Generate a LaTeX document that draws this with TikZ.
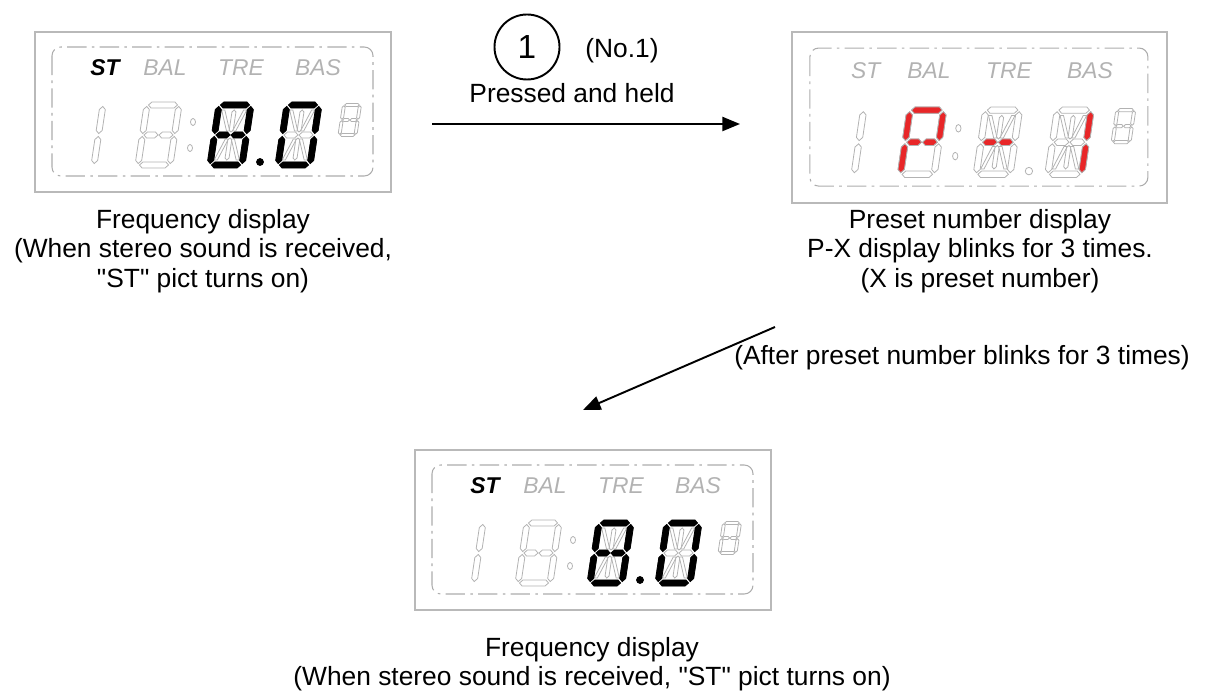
\documentclass[tikz,border=0pt]{standalone}
\usepackage{fontspec}
\setmainfont{Liberation Sans}[Ligatures=TeXOff]
\usepackage{xcolor}
\usetikzlibrary{positioning,arrows.meta}

\definecolor{lcdred}{RGB}{232,38,40}

% --- segments of one LCD digit (px, y down, origin = top left) ---
\newcommand\hseg[3]{(#1,#3)--(#1+3,#3-3)--(#2-3,#3-3)--(#2,#3)--(#2-3,#3+3)--(#1+3,#3+3)--cycle}
\newcommand\vseg[3]{(#1,#2)--(#1+3,#2+3)--(#1+3,#3-3)--(#1,#3)--(#1-3,#3-3)--(#1-3,#2+3)--cycle}
\newcommand\iseg[3]{(#1,#2)--(#1+2,#2+2)--(#1+2,#3-2)--(#1,#3)--(#1-2,#3-2)--(#1-2,#2+2)--cycle}
\newcommand\dseg[4]{(#1-1.6,#2)--(#1+1.6,#2)--(#3+1.6,#4)--(#3-1.6,#4)--cycle}
\def\lcdsega{\hseg{1.5}{30.5}{0}}
\def\lcdsegb{\vseg{32}{1.5}{28.5}}
\def\lcdsegc{\vseg{32}{31.5}{58.5}}
\def\lcdsegd{\hseg{1.5}{30.5}{60}}
\def\lcdsege{\vseg{0}{31.5}{58.5}}
\def\lcdsegf{\vseg{0}{1.5}{28.5}}
\def\lcdsegp{\hseg{1.5}{15.5}{30}}
\def\lcdsegq{\hseg{16.5}{30.5}{30}}
\def\lcdsegi{\iseg{16}{5}{27}}
\def\lcdsegl{\iseg{16}{33}{55}}
\def\lcdsegh{\dseg{5}{5}{13}{26}}
\def\lcdsegj{\dseg{27}{5}{19}{26}}
\def\lcdsegk{\dseg{5}{55}{13}{34}}
\def\lcdsegm{\dseg{27}{55}{19}{34}}
\def\lcdsegnone{}

% #1 origin, #2 segments present, #3 lit segments, #4 lit style
\newcommand\lcddigit[4]{%
  \begin{scope}[shift={#1},xslant=0.15]
    \foreach \s in {#2} \draw[segoff] \csname lcdseg\s\endcsname;
    \foreach \s in {#3} \filldraw[#4] \csname lcdseg\s\endcsname;
  \end{scope}}

% #1 name, #2 origin, #3 scaling, #4 ST style, #5-#7 lit segments, #8 lit style, #9 point style
\newcommand\lcdpanel[9]{%
  \begin{scope}[shift={#2},#3]
    \draw[panelframe] (0,0) rectangle (356,160);
    \draw[panelinner] (17,15) rectangle (338,144);
    \node[lcdtag,#4] (#1-st)  at (70,36)  {ST};
    \node[lcdtag]    (#1-bal) at (130,36) {BAL};
    \node[lcdtag]    (#1-tre) at (206,36) {TRE};
    \node[lcdtag]    (#1-bas) at (283,36) {BAS};
    \lcddigit{(36,73)}{b,c}{none}{#8}
    \lcddigit{(112,73)}{a,b,c,d,e,f,p,q}{#5}{#8}
    \draw[segoff] (158,90) ellipse (2.5 and 3.5);
    \draw[segoff] (155,116) ellipse (2.5 and 3.5);
    \lcddigit{(184,73)}{a,b,c,d,e,f,p,q,h,i,j,k,l,m}{#6}{#8}
    \filldraw[#9] (225,130) circle (3.5);
    \lcddigit{(252,73)}{a,b,c,d,e,f,p,q,h,i,j,k,l,m}{#7}{#8}
    \begin{scope}[shift={(309,73)},scale=0.5]
      \lcddigit{(0,0)}{a,b,c,d,e,f,p,q}{none}{#8}
    \end{scope}
  \end{scope}}

\begin{document}
\begin{tikzpicture}[
  x=0.02cm, y=-0.02cm,
  every node/.style={font=\fontsize{15}{16.8}\selectfont},
  caption/.style={align=center, inner sep=0pt, anchor=north},
  panelframe/.style={draw=gray!55, line width=0.9pt},
  panelinner/.style={draw=gray!65, line width=0.6pt, rounded corners=5pt,
                     dash pattern=on 11pt off 3pt on 1.5pt off 3pt},
  lcdtag/.style={text=gray!60, inner sep=0pt, font=\fontsize{13}{13}\selectfont\itshape},
  stlit/.style={text=black, font=\fontsize{13}{13}\selectfont\bfseries\itshape},
  segoff/.style={draw=gray!60, fill=white, line width=0.45pt},
  segon/.style={draw=black, fill=black, line width=0.45pt},
  segred/.style={draw=gray!60, fill=lcdred, line width=0.45pt},
  dotoff/.style={draw=gray!60, fill=white, line width=0.45pt},
  doton/.style={draw=black, fill=black},
  keycirc/.style={circle, draw, line width=1.1pt, minimum size=37pt, inner sep=0pt,
                  font=\fontsize{19}{19}\selectfont},
  arr/.style={-{Triangle[length=10pt,width=8pt]}, line width=1.1pt},
]
\useasboundingbox (0,0) rectangle (1208,699);

% --- displays ---
\lcdpanel{freqA}{(35,32)}{}{stlit}{none}{a,b,c,d,e,f,p,q}{a,b,c,d,e,f}{segon}{doton}
\lcdpanel{preset}{(792,32)}{xscale=1.053,yscale=1.07}{}{a,b,f,p,q,e}{p,q}{b,c}{segred}{dotoff}
\lcdpanel{freqB}{(415,450)}{}{stlit}{none}{a,b,c,d,e,f,p,q}{a,b,c,d,e,f}{segon}{doton}

% --- captions ---
\node[caption] (capA) at (203,209) {Frequency display\\(When stereo sound is received,\\"ST" pict turns on)};
\node[caption] (capP) at (980,209) {Preset number display\\P-X display blinks for 3 times.\\(X is preset number)};
\node[caption] (capB) at (592,637) {Frequency display\\(When stereo sound is received, "ST" pict turns on)};

% --- key 1 ---
\node[keycirc] (key) at (527,47) {1};
\node[anchor=base] (keyno) at (622,58) {(No.1)};
\node[anchor=base] (press) at (572,103) {Pressed and held};

% --- arrows ---
\coordinate (pressS) at (432,124);
\coordinate (pressE) at (740,124);
\draw[arr] (pressS) -- (pressE);
\coordinate (backS) at (775,327);
\coordinate (backE) at (583,410);
\draw[arr] (backS) -- (backE);
\node[anchor=base] (back) at (962,365) {(After preset number blinks for 3 times)};

\end{tikzpicture}
\end{document}
